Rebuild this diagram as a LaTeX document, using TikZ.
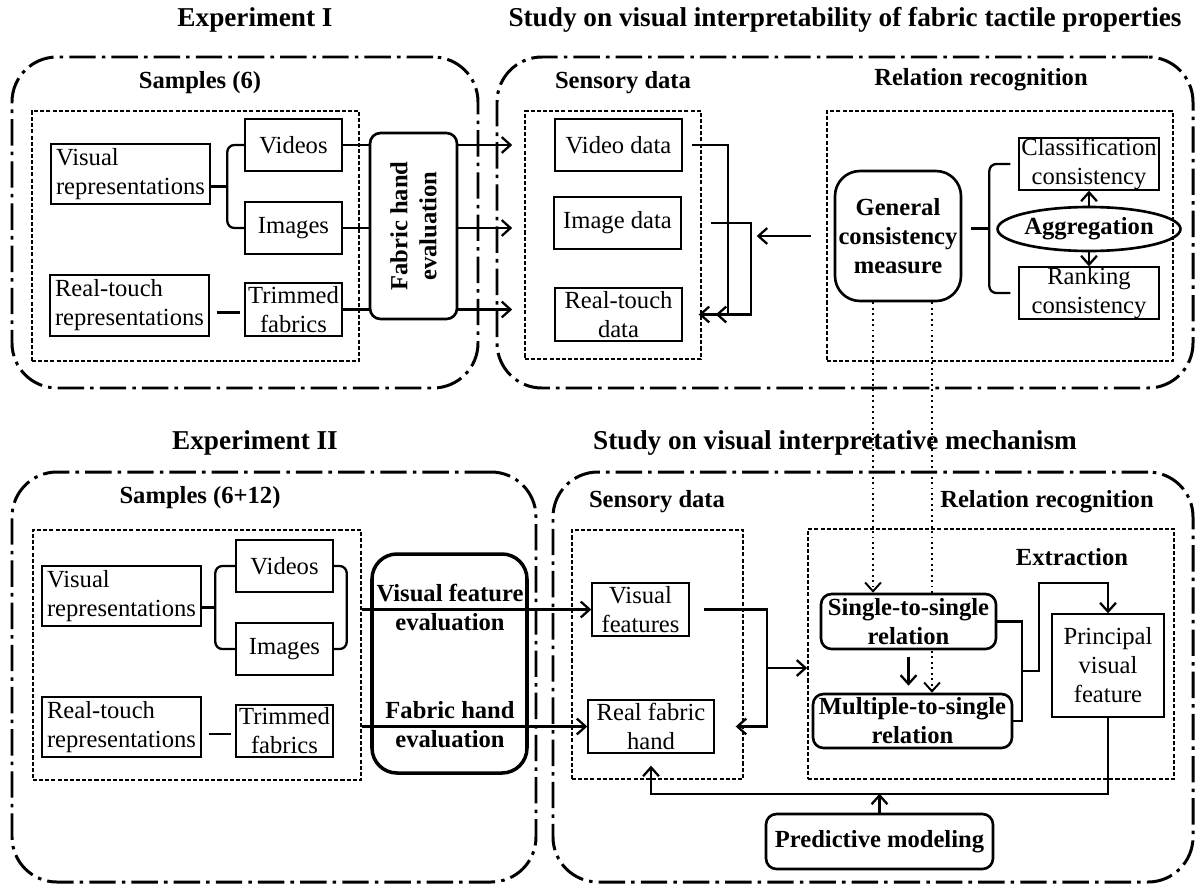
\documentclass[tikz,border=0pt]{standalone}
\usepackage{fontspec}
\setmainfont{Liberation Serif}
\usetikzlibrary{shapes.geometric,fit,calc,backgrounds,arrows.meta}

\begin{document}
\begin{tikzpicture}[
    x=0.02cm, y=-0.02cm,
    >={Straight Barb[length=5pt,width=9pt]},
    title/.style={font=\fontsize{15.5}{18}\selectfont\bfseries},
    heading/.style={font=\fontsize{14}{16.5}\selectfont\bfseries},
    boxsize/.style 2 args={minimum width=#1*0.02cm, minimum height=#2*0.02cm},
    smallbox/.style={draw, line width=0.8pt, inner sep=0pt, align=center, font=\fontsize{14}{16.5}\selectfont},
    rbox/.style={draw, line width=1.5pt, rounded corners=6pt, inner sep=0pt, align=center, font=\fontsize{14}{16.5}\selectfont\bfseries},
    groupbox/.style={draw, line width=0.9pt, dash pattern=on 2.3pt off 1.2pt, inner sep=0pt},
    outerbox/.style={draw, line width=1.7pt, rounded corners=0.9cm, dash pattern=on 15pt off 3.5pt on 2pt off 3.5pt, inner sep=0pt},
    link/.style={line width=1.3pt}
    ]
    \useasboundingbox (0,0) rectangle (1197,886);

    % Experiment I
    \node[title] (exp1title) at (255,20) {Experiment I};
    \node[title] (study1title) at (845,20) {Study on visual interpretability of fabric tactile properties};
    \node[outerbox, fit={(12,57) (478,388)}] (exp1) {};
    \node[outerbox, fit={(497,57) (1193,388)}] (study1) {};

    \node[heading] (samples1) at (200,83) {Samples (6)};
    \node[groupbox, fit={(32,111) (359,361)}] (smp1) {};
    \node[smallbox, align=left, boxsize={159}{60}] (vis1) at (130.5,174) {Visual\\representations};
    \node[smallbox, boxsize={97}{52}] (vid1) at (293.5,145) {Videos};
    \node[smallbox, boxsize={97}{52}] (img1) at (293.5,228) {Images};
    \node[smallbox, align=left, boxsize={159}{61}] (rt1) at (129.5,305.5) {Real-touch\\representations};
    \node[smallbox, boxsize={97}{53}] (tf1) at (293.5,309.5) {Trimmed\\fabrics};
    \node[rbox, boxsize={87}{186},
      label={[rotate=90, align=center, font=\fontsize{14}{16.5}\selectfont\bfseries]center:{Fabric hand\\evaluation}}] (fhe1) at (413.5,226) {};

    \node[heading] (sensory1) at (623,83) {Sensory data};
    \node[groupbox, fit={(525,111) (701,359)}] (sens1) {};
    \node[smallbox, boxsize={127}{52}] (vd) at (618.5,145) {Video data};
    \node[smallbox, boxsize={127}{52}] (id) at (617.5,223) {Image data};
    \node[smallbox, boxsize={127}{53}] (rtd) at (618.5,314.5) {Real-touch\\data};

    \node[heading] (relation1) at (981,80) {Relation recognition};
    \node[groupbox, fit={(827,111) (1173,361)}] (rel1) {};
    \node[rbox, rounded corners=0.5cm, boxsize={126}{130}] (gcm) at (898,236) {General\\consistency\\measure};
    \node[smallbox, boxsize={140}{52}] (cc) at (1089,164) {Classification\\consistency};
    \node[smallbox, boxsize={140}{52}] (rc) at (1089,293) {Ranking\\consistency};
    \node[draw, ellipse, line width=1.5pt, inner sep=0pt, boxsize={153}{44},
      font=\fontsize{14}{16.5}\selectfont\bfseries] (agg) at (1089,229) {Aggregation};

    \draw[link, rounded corners=4pt] (vid1.west) -- ++(-17,0) |- (img1.west);
    \coordinate (b1) at ($(vid1.west)!0.5!(img1.west)+(-17,0)$);
    \draw[link] (b1 -| vis1.east) -- (b1);
    \coordinate (r1) at ([yshift=-4pt]rt1.east);
    \draw[link, shorten <=4pt, shorten >=2.5pt] (r1) -- (r1 -| tf1.west);

    \draw[link] (vid1.east) -- (vid1.east -| fhe1.west);
    \draw[link] (img1.east) -- (img1.east -| fhe1.west);
    \draw[link] (tf1.east) -- (tf1.east -| fhe1.west);
    \draw[link,->] (fhe1.east |- vid1.east) -- ($(sens1.west |- vid1.east)+(-12,0)$);
    \draw[link,->] (fhe1.east |- img1.east) -- ($(sens1.west |- img1.east)+(-12,0)$);
    \draw[link,->] (fhe1.east |- tf1.east) -- ($(sens1.west |- tf1.east)+(-12,0)$);

    \draw[link,->] ($(vd.east)+(9,0)$) -| ($(rtd.east)+(45,0)$) -- ($(rtd.east)+(16,0)$);
    \draw[link,->] ($(id.east)+(29,0)$) -| ($(rtd.east)+(68,0)$) -- ($(rtd.east)+(33,0)$);
    \draw[link,->] ($(gcm.west)+(-23,0)$) -- ($(gcm.west)+(-77,0)$);

    \draw[link, rounded corners=4pt] ($(cc.west)+(-8,0)$) -- ++(-21,0) |- ($(rc.west)+(-8,0)$);
    \coordinate (b2) at ($(cc.west)!0.5!(rc.west)+(-29,0)$);
    \draw[link] ($(b2 -| gcm.east)+(9,0)$) -- (b2);
    \draw[link,->] (agg.north) -- (cc.south);
    \draw[link,->] (agg.south) -- (rc.north);

    % Experiment II
    \node[title] (exp2title) at (255,443) {Experiment II};
    \node[title] (study2title) at (835,443) {Study on visual interpretative mechanism};
    \node[outerbox, fit={(12,472) (536,882)}] (exp2) {};
    \node[outerbox, fit={(553,472) (1193,882)}] (study2) {};

    \node[heading] (samples2) at (200,498) {Samples (6+12)};
    \node[groupbox, fit={(33,530) (361,780)}] (smp2) {};
    \node[smallbox, align=left, boxsize={159}{60}] (vis2) at (121.5,596) {Visual\\representations};
    \node[smallbox, boxsize={97}{52}] (vid2) at (284.5,566) {Videos};
    \node[smallbox, boxsize={97}{52}] (img2) at (284.5,649) {Images};
    \node[smallbox, align=left, boxsize={159}{60}] (rt2) at (121.5,727) {Real-touch\\representations};
    \node[smallbox, boxsize={97}{52}] (tf2) at (284.5,731) {Trimmed\\fabrics};
    \node[rbox, line width=2pt, rounded corners=0.5cm, boxsize={155}{219}] (eval2) at (449.5,663.5) {};
    \node[heading, align=center] (vfe) at (450,607) {Visual feature\\evaluation};
    \node[heading, align=center] (fhe2) at (450,725) {Fabric hand\\evaluation};

    \node[heading] (sensory2) at (657,502) {Sensory data};
    \node[groupbox, fit={(572,530) (743,779)}] (sens2) {};
    \node[smallbox, boxsize={97}{53}] (vf) at (640.5,609.5) {Visual\\features};
    \node[smallbox, boxsize={126}{53}] (rfh) at (651,726.5) {Real fabric\\hand};

    \node[heading] (relation2) at (1047,502) {Relation recognition};
    \node[groupbox, fit={(808,529) (1174,779)}] (rel2) {};
    \node[heading] (extraction) at (1072,557) {Extraction};
    \node[rbox, fill=white, boxsize={175}{55}] (ss) at (908.5,621.5) {Single-to-single\\relation};
    \node[rbox, fill=white, boxsize={199}{54}] (ms) at (912.5,721) {Multiple-to-single\\relation};
    \node[smallbox, boxsize={112}{103}] (pvf) at (1108,665.5) {Principal\\visual\\feature};
    \node[rbox, boxsize={227}{55}] (pm) at (879.5,841.5) {Predictive modeling};

    \draw[link, rounded corners=4pt] (vid2.west) -- ++(-20,0) |- (img2.west);
    \coordinate (b3) at ($(vid2.west)!0.5!(img2.west)+(-20,0)$);
    \draw[link] (b3 -| vis2.east) -- (b3);
    \draw[link, rounded corners=4pt] (vid2.east) -- ++(13,0) |- (img2.east);
    \coordinate (r2) at ([yshift=-4pt]rt2.east);
    \draw[link, shorten <=4pt, shorten >=2.5pt] (r2) -- (r2 -| tf2.west);
    \draw[link,->] (smp2.east |- vf.west) -- (vf.west);
    \draw[link,->] (smp2.east |- rfh.west) -- (rfh.west);

    \draw[link,->] ($(vf.east)+(14,0)$) -| ($(rfh.east)+(52,0)$) -- ($(rfh.east)+(21,0)$);
    \coordinate (jn) at ($(vf.east)!0.5!(rfh.east)+(65,0)$);
    \draw[link,->] (jn) -- (jn -| rel2.west);
    \draw[link,->, shorten <=4pt, shorten >=4pt] (ss.south) -- (ss.south |- ms.north);
    \draw[link] (ss.east) -| ($(ms.east)+(9,0)$) -- (ms.east);
    \coordinate (jr) at ($(ss.east)!0.5!(ms.east)+(17,0)$);
    \draw[link,->] (jr) -- ++(17,0) |- ($(pvf.north)+(0,-30)$) -- (pvf.north);
    \draw[link,->] (pvf.south) |- ($(rfh.south)+(0,40)$) -- ($(rfh.south)+(0,12)$);
    \draw[link,->] (pm.north) -- ++(0,-19);

    % from experiment I to experiment II
    \begin{scope}[on background layer]
      \coordinate (d1) at ($(gcm.south)+(-25,0)$);
      \coordinate (d2) at ($(gcm.south)+(34,0)$);
      \draw[line width=1.1pt, dotted, ->] (d1) -- (d1 |- ss.north);
      \draw[line width=1.1pt, dotted, ->] (d2) -- (d2 |- ms.north);
    \end{scope}

\end{tikzpicture}
\end{document}
